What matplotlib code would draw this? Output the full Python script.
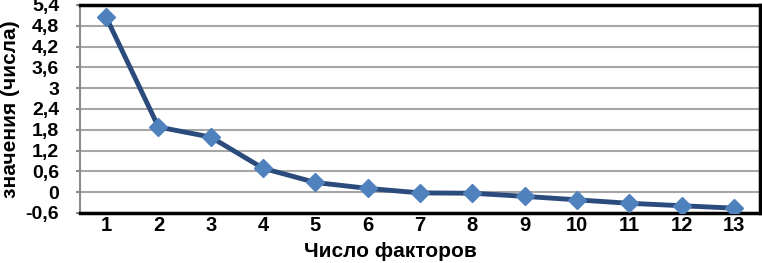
import matplotlib.pyplot as plt
import numpy as np

factors = [1, 2, 3, 4, 5, 6, 7, 8, 9, 10, 11, 12, 13]
values = [5.05, 1.88, 1.59, 0.69, 0.28, 0.11, -0.02, -0.03, -0.12, -0.22, -0.32, -0.39, -0.46]
yticks = [-0.6, 0, 0.6, 1.2, 1.8, 2.4, 3, 3.6, 4.2, 4.8, 5.4]
ytick_labels = ['-0,6', '0', '0,6', '1,2', '1,8', '2,4', '3', '3,6', '4,2', '4,8', '5,4']

plt.rcParams['font.family'] = ['Liberation Sans', 'DejaVu Sans']
plt.rcParams['font.weight'] = 'bold'

fig = plt.figure(figsize=(7.62, 2.63), dpi=100)
ax = fig.add_axes([80 / 762, 50 / 263, 680 / 762, 208 / 263])

ax.plot(factors, values, color='#2B4B7C', lw=3.5, marker='D', ms=9.5,
        mfc='#4F81BD', mec='#4F81BD', zorder=3)

ax.set_xlim(0.5, 13.5)
ax.set_ylim(-0.6, 5.4)
ax.set_yticks(yticks)
ax.set_yticklabels(ytick_labels, fontsize=14, fontweight='bold')
ax.set_xticks(factors)
ax.set_xticklabels([str(f) for f in factors], fontsize=14.5, fontweight='bold')
ax.grid(axis='y', color='#A6A6A6', lw=1.5)
ax.set_axisbelow(True)

ax.tick_params(axis='x', length=0, pad=2)
ax.tick_params(axis='y', length=3, width=1.5, color='#8C8C8C', pad=12)

for side in ['top', 'bottom', 'right']:
    ax.spines[side].set_color('black')
    ax.spines[side].set_linewidth(2.5)
ax.spines['left'].set_color('#8C8C8C')
ax.spines['left'].set_linewidth(1.5)

ax.set_xlabel('Число факторов', fontsize=15, fontweight='bold')
ax.xaxis.set_label_coords(0.457, -0.14)
ax.set_ylabel('значения (числа)', fontsize=15, fontweight='bold')
ax.yaxis.set_label_coords(-0.088, 0.5)

fig.savefig('out.png', dpi=100)
